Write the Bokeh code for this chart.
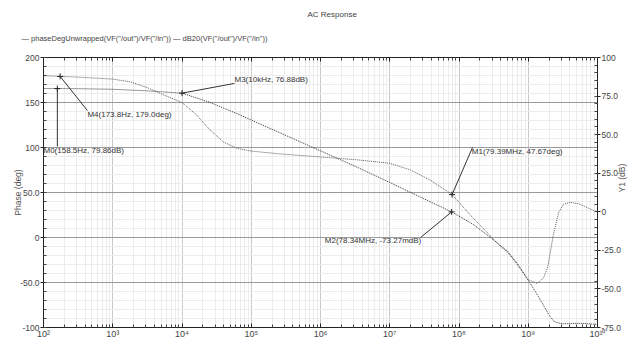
import math
from bokeh.plotting import figure
from bokeh.models import Range1d, LinearAxis, LogAxis, FixedTicker, Title
from bokeh.core.properties import value
from bokeh.embed import file_html
from bokeh.resources import INLINE

FONT = "Liberation Sans"

# ---- data ----
phase_freq = [1.0e2, 1.74e2, 3.16e2, 1.0e3, 1.78e3, 3.16e3, 5.62e3, 1.0e4, 1.58e4, 2.51e4,
              3.98e4, 6.31e4, 1.0e5, 2.51e5, 1.0e6, 3.16e6, 1.0e7, 2.0e7, 3.98e7, 7.94e7,
              1.58e8, 2.82e8, 3.98e8, 5.01e8, 7.08e8, 1.0e9, 1.35e9, 1.66e9, 1.91e9, 2.29e9,
              2.75e9, 3.24e9, 4.07e9, 5.37e9, 7.24e9, 1.0e10]
phase_deg = [179.8, 179.0, 178.2, 176.0, 173.0, 166.5, 158.0, 150.0, 137.0, 120.0,
             106.0, 99.0, 96.0, 93.0, 89.5, 86.5, 82.5, 75.0, 63.0, 47.7,
             22.0, 2.0, -10.0, -16.0, -31.0, -47.0, -51.0, -45.0, -33.0, 2.0,
             28.0, 37.0, 39.0, 37.5, 33.0, 28.0]

db_freq = [1.0e2, 1.585e2, 3.16e2, 1.0e3, 3.16e3, 1.0e4, 2.51e4, 6.31e4, 1.58e5, 3.98e5,
           1.0e6, 3.16e6, 1.0e7, 3.16e7, 7.834e7, 1.58e8, 2.82e8, 5.01e8, 7.08e8, 1.0e9,
           1.26e9, 1.58e9, 2.0e9, 2.4e9, 3.16e9, 5.01e9, 7.08e9, 1.0e10]
db_val = [79.9, 79.86, 79.8, 79.4, 78.4, 76.88, 71.0, 63.5, 55.5, 47.5,
          39.5, 29.5, 19.0, 8.3, -0.073, -8.0, -16.5, -25.5, -34.0, -44.5,
          -51.5, -59.0, -67.0, -71.5, -72.6, -72.3, -72.5, -73.0]

marker_freq = [158.5, 79.39e6, 78.34e6, 10.0e3, 173.8]
marker_val = [79.86, 47.67, -0.07327, 76.88, 179.0]
marker_axis = ["db", "phase", "db", "db", "phase"]
marker_text = ["M0(158.5Hz, 79.86dB)", "M1(79.39MHz, 47.67deg)",
               "M2(78.34MHz, -73.27mdB)", "M3(10kHz, 76.88dB)",
               "M4(173.8Hz, 179.0deg)"]

x_ticks = [1e2, 1e3, 1e4, 1e5, 1e6, 1e7, 1e8, 1e9, 1e10]
x_tick_labels = ["10²", "10³", "10⁴", "10⁵", "10⁶", "10⁷", "10⁸", "10⁹", "10¹⁰"]
phase_ticks = [-100, -50, 0, 50, 100, 150, 200]
phase_tick_labels = ["-100", "-50.0", "0", "50.0", "100", "150", "200"]
db_ticks = [-75, -50, -25, 0, 25, 50, 75, 100]
db_tick_labels = ["-75.0", "-50.0", "-25.0", "0", "25.0", "50.0", "75.0", "100"]

title_text = "AC Response"
legend_text = '— phaseDegUnwrapped(VF("/out")/VF("/in"))  — dB20(VF("/out")/VF("/in"))'

# ---- annotation layout (leader end and text anchor, in data units) ----
leader_end = [(158.5, 42.3), (1.567e8, 100.0), (2.78e7, -16.7), (5.73e4, 83.2), (431.0, 141.0)]
text_anchor = [(100.0, 39.7, "left"), (1.53e8, 95.6, "left"), (2.85e7, -18.6, "right"),
               (5.73e4, 85.7, "left"), (431.0, 136.7, "left")]

p = figure(width=636, height=351, x_axis_type="log",
           x_range=Range1d(1e2, 1e10), y_range=Range1d(-100, 200),
           output_backend="svg", toolbar_location=None, title_location=None,
           min_border_left=43, min_border_right=39, min_border_top=57, min_border_bottom=24,
           background_fill_color="white", border_fill_color="white",
           outline_line_color=None)
p.extra_y_ranges = {"db": Range1d(-75, 100)}

tick_font_size = "8.5px"
tick_color = "#444444"

def style_axis(ax):
    ax.axis_line_color = "#222222"
    ax.major_tick_line_color = "#222222"
    ax.minor_tick_line_color = "#444444"
    ax.major_tick_in = 0
    ax.major_tick_out = 3
    ax.minor_tick_in = 3
    ax.minor_tick_out = 0
    ax.major_label_text_font = FONT
    ax.major_label_text_font_size = tick_font_size
    ax.major_label_text_color = tick_color
    ax.major_label_standoff = 1
    ax.axis_label_text_font = FONT
    ax.axis_label_text_font_size = "8.5px"
    ax.axis_label_text_font_style = "normal"
    ax.axis_label_text_color = "#555555"
    ax.axis_label_standoff = 3

xt = FixedTicker(ticks=x_ticks,
                 minor_ticks=[m * t for t in x_ticks[:-1] for m in range(2, 10)])
pt = FixedTicker(ticks=phase_ticks, minor_ticks=list(range(-100, 201, 10)))
dt = FixedTicker(ticks=db_ticks, minor_ticks=list(range(-75, 101, 5)))

xa = p.xaxis[0]
xa.ticker = xt
style_axis(xa)
xa.major_tick_out = 0
xa.major_tick_in = 4
xa.major_label_text_font_size = "9px"
xa.major_label_overrides = {t: s for t, s in zip(x_ticks, x_tick_labels)}

ya = p.yaxis[0]
ya.ticker = pt
style_axis(ya)
ya.axis_label = "Phase (deg)"
ya.axis_label_standoff = -6
ya.major_label_overrides = {t: s for t, s in zip(phase_ticks, phase_tick_labels)}

ra = LinearAxis(y_range_name="db", ticker=dt, axis_label="Y1 (dB)")
style_axis(ra)
ra.axis_label_standoff = -2
ra.major_label_overrides = {t: s for t, s in zip(db_ticks, db_tick_labels)}
if hasattr(ra, "axis_label_orientation"):
    ra.axis_label_orientation = math.pi / 2
p.add_layout(ra, "right")

ta = LogAxis(ticker=xt)
style_axis(ta)
ta.major_tick_out = 0
ta.major_tick_in = 4
ta.major_label_text_alpha = 0
ta.major_label_standoff = 0
p.add_layout(ta, "above")

legend_title = Title(text=legend_text, align="left", offset=-22, standoff=30,
                     text_font=FONT, text_font_size="7.5px", text_font_style="normal",
                     text_color="#444444")
p.add_layout(legend_title, "above")
main_title = Title(text=title_text, align="left", offset=264, standoff=-5,
                   text_font=FONT, text_font_size="8px", text_font_style="normal",
                   text_color="#444444")
p.add_layout(main_title, "above")

p.xgrid.ticker = xt
p.xgrid.grid_line_color = "#c8c8c8"
p.xgrid.minor_grid_line_color = "#ececec"
p.ygrid.ticker = pt
p.ygrid.grid_line_color = "#9a9a9a"
p.ygrid.minor_grid_line_color = "#ececec"

# curves
p.line(phase_freq, phase_deg, line_color="#5a5a5a", line_width=1, line_dash="1 1")
p.line(db_freq, db_val, y_range_name="db", line_color="#333333", line_width=1, line_dash="1 1")

# markers
for i in range(len(marker_text)):
    kw = {"y_range_name": "db"} if marker_axis[i] == "db" else {}
    fx, fy = marker_freq[i], marker_val[i]
    ex, ey = leader_end[i]
    tx, ty, al = text_anchor[i]
    p.segment(x0=[fx], y0=[fy], x1=[ex], y1=[ey], line_color="#333333", line_width=1, **kw)
    p.scatter(x=[fx], y=[fy], marker="cross", size=6, line_color="#222222", line_width=1, **kw)
    p.text(x=[tx], y=[ty], text=[marker_text[i]], text_align=al, text_baseline="middle",
           text_font=value(FONT), text_font_size="8px", text_color="#333333", **kw)

open("out.html", "w").write(file_html(p, INLINE))
